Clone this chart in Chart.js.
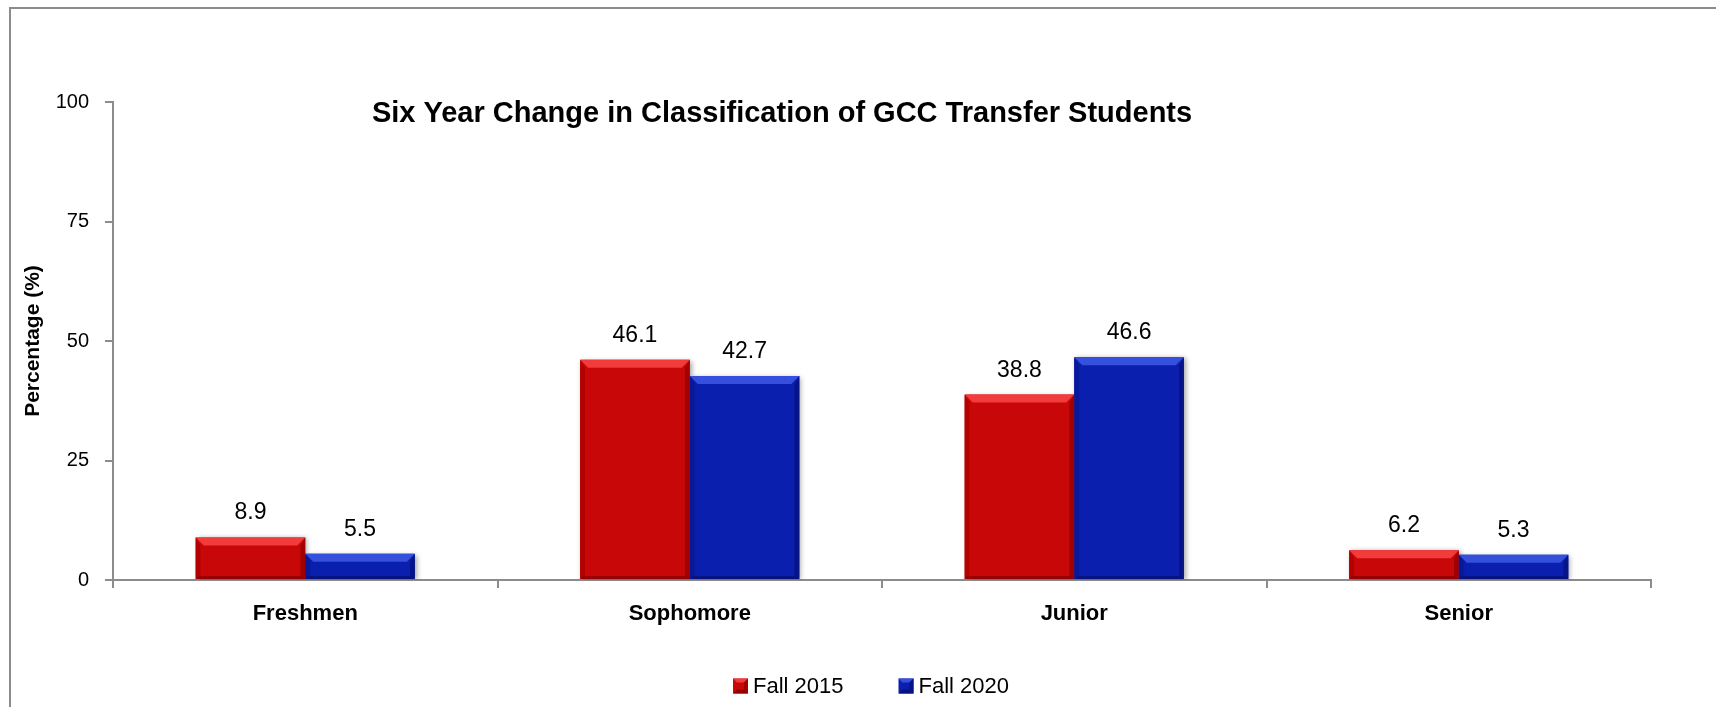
<!DOCTYPE html>
<html>
<head>
<meta charset="utf-8">
<script src="https://cdn.jsdelivr.net/npm/chart.js@4/dist/chart.umd.min.js"></script>
<style>
  html, body { margin: 0; padding: 0; background: #ffffff; }
  #wrap { position: relative; width: 1716px; height: 707px; overflow: hidden; }
  #frame { position: absolute; left: 9px; top: 7px; width: 1800px; height: 800px;
           border-top: 2px solid #8c8c8c; border-left: 2px solid #8c8c8c; }
  #c { position: absolute; left: 0; top: 0; }
</style>
</head>
<body>
<div id="wrap">
  <div id="frame"></div>
  <canvas id="c" width="1716" height="707"></canvas>
</div>
<script>
const chartTitle = 'Six Year Change in Classification of GCC Transfer Students';
const yAxisTitle = 'Percentage (%)';
const categories = ['Freshmen', 'Sophomore', 'Junior', 'Senior'];
const seriesNames = ['Fall 2015', 'Fall 2020'];
const fall2015 = [8.9, 46.1, 38.8, 6.2];
const fall2020 = [5.5, 42.7, 46.6, 5.3];
const yTicks = [0, 25, 50, 75, 100];

const FONT = "'Liberation Sans', Arial, sans-serif";
const RED = '#c80808';
const BLUE = '#0a1fad';
const bevelColors = {
  [RED]:  { top: '#f23b3b', left: '#b30000', right: '#a00000', bottom: '#980000' },
  [BLUE]: { top: '#3550dc', left: '#08189a', right: '#061488', bottom: '#051280' }
};

const shadowPlugin = {
  id: 'barShadow',
  beforeDatasetsDraw(chart) {
    const ctx = chart.ctx;
    ctx.save();
    ctx.shadowColor = 'rgba(0,0,0,0.35)';
    ctx.shadowBlur = 5;
    ctx.shadowOffsetX = 2;
    ctx.shadowOffsetY = 1;
  },
  afterDatasetsDraw(chart) {
    chart.ctx.restore();
  }
};

function drawBevelBox(ctx, l, t, r, b, base, cols, maxS) {
  const h = b - t;
  const s = Math.min(maxS, h / 3);
  const e = Math.min(3, h / 6);
  const poly = (pts, col) => {
    ctx.beginPath();
    ctx.moveTo(pts[0][0], pts[0][1]);
    for (let i = 1; i < pts.length; i++) ctx.lineTo(pts[i][0], pts[i][1]);
    ctx.closePath();
    ctx.fillStyle = col;
    ctx.fill();
  };
  ctx.fillStyle = base;
  ctx.fillRect(l, t, r - l, b - t);
  poly([[l, t], [r, t], [r - s, t + s], [l + s, t + s]], cols.top);
  poly([[l, t], [l + s * 0.6, t + s], [l + s * 0.6, b - e], [l, b]], cols.left);
  poly([[r, t], [r - s * 0.6, t + s], [r - s * 0.6, b - e], [r, b]], cols.right);
  poly([[l, b], [r, b], [r - e, b - e], [l + e, b - e]], cols.bottom);
}

const bevelPlugin = {
  id: 'bevel',
  afterDatasetsDraw(chart) {
    const ctx = chart.ctx;
    chart.data.datasets.forEach((ds, di) => {
      const meta = chart.getDatasetMeta(di);
      const cols = bevelColors[ds.backgroundColor];
      meta.data.forEach(bar => {
        const p = bar.getProps(['x', 'y', 'base', 'width'], true);
        ctx.save();
        const l = p.x - p.width / 2, r = p.x + p.width / 2;
        // overlay bevel on top of the bar drawn by Chart.js
        const h = p.base - p.y;
        const s = Math.min(8, h / 3);
        const e = Math.min(3, h / 6);
        const poly = (pts, col) => {
          ctx.beginPath();
          ctx.moveTo(pts[0][0], pts[0][1]);
          for (let i = 1; i < pts.length; i++) ctx.lineTo(pts[i][0], pts[i][1]);
          ctx.closePath();
          ctx.fillStyle = col;
          ctx.fill();
        };
        const t = p.y, b = p.base;
        poly([[l, t], [r, t], [r - s, t + s], [l + s, t + s]], cols.top);
        poly([[l, t], [l + s * 0.6, t + s], [l + s * 0.6, b - e], [l, b]], cols.left);
        poly([[r, t], [r - s * 0.6, t + s], [r - s * 0.6, b - e], [r, b]], cols.right);
        poly([[l, b], [r, b], [r - e, b - e], [l + e, b - e]], cols.bottom);
        ctx.restore();
      });
    });
  }
};

const labelPlugin = {
  id: 'valueLabels',
  afterDatasetsDraw(chart) {
    const ctx = chart.ctx;
    ctx.save();
    ctx.font = '23px ' + FONT;
    ctx.fillStyle = '#000';
    ctx.textAlign = 'center';
    ctx.textBaseline = 'alphabetic';
    chart.data.datasets.forEach((ds, di) => {
      const meta = chart.getDatasetMeta(di);
      meta.data.forEach((bar, i) => {
        ctx.fillText(ds.data[i].toFixed(1), bar.x, bar.y - 18);
      });
    });
    ctx.restore();
  }
};

const titlePlugin = {
  id: 'customTitle',
  afterDraw(chart) {
    const ctx = chart.ctx;
    const a = chart.chartArea;
    ctx.save();
    ctx.font = 'bold 29px ' + FONT;
    ctx.fillStyle = '#000';
    ctx.textAlign = 'center';
    ctx.textBaseline = 'alphabetic';
    ctx.fillText(chartTitle, a.left + (a.right - a.left) * 0.435, a.top + 20);
    ctx.restore();
  }
};

const legendPlugin = {
  id: 'customLegend',
  afterDraw(chart) {
    const ctx = chart.ctx;
    const a = chart.chartArea;
    const box = 15, gap = 5, itemGap = 55;
    ctx.save();
    ctx.font = '22px ' + FONT;
    const items = chart.data.datasets.map(ds => ({ text: ds.label, color: ds.backgroundColor, w: ctx.measureText(ds.label).width }));
    const total = items.reduce((s, it) => s + box + gap + it.w, 0) + itemGap * (items.length - 1);
    let x = (a.left + a.right) / 2 - 11 - total / 2;
    const cy = a.bottom + 106;
    items.forEach(it => {
      const cols = bevelColors[it.color];
      const l = x, t = cy - box / 2, r = x + box, b = cy + box / 2;
      ctx.fillStyle = it.color;
      ctx.fillRect(l, t, box, box);
      const s = 4;
      const poly = (pts, col) => {
        ctx.beginPath();
        ctx.moveTo(pts[0][0], pts[0][1]);
        for (let i = 1; i < pts.length; i++) ctx.lineTo(pts[i][0], pts[i][1]);
        ctx.closePath();
        ctx.fillStyle = col;
        ctx.fill();
      };
      poly([[l, t], [r, t], [r - s, t + s], [l + s, t + s]], cols.top);
      poly([[l, b], [r, b], [r - s, b - s], [l + s, b - s]], cols.bottom);
      poly([[r, t], [r - s, t + s], [r - s, b - s], [r, b]], cols.right);
      ctx.fillStyle = '#000';
      ctx.textAlign = 'left';
      ctx.textBaseline = 'middle';
      ctx.fillText(it.text, x + box + gap, cy + 1);
      x += box + gap + it.w + itemGap;
    });
    ctx.restore();
  }
};

new Chart(document.getElementById('c'), {
  type: 'bar',
  data: {
    labels: categories,
    datasets: [
      { label: seriesNames[0], data: fall2015, backgroundColor: RED, borderWidth: 0 },
      { label: seriesNames[1], data: fall2020, backgroundColor: BLUE, borderWidth: 0 }
    ]
  },
  options: {
    responsive: false,
    animation: false,
    devicePixelRatio: 1,
    layout: { padding: { left: 10, right: 65, top: 102, bottom: 69 } },
    datasets: { bar: { barPercentage: 1.0, categoryPercentage: 0.57 } },
    plugins: {
      title: { display: false },
      tooltip: { enabled: false },
      legend: { display: false }
    },
    scales: {
      x: {
        grid: { display: true, drawOnChartArea: false, offset: true, tickLength: 8, color: '#8c8c8c', lineWidth: 2 },
        border: { display: true, color: '#8c8c8c', width: 2 },
        ticks: { font: { family: FONT, size: 22, weight: 'bold' }, color: '#000', padding: 13 },
        afterFit(scale) { scale.height = 58; }
      },
      y: {
        min: 0, max: 100,
        afterBuildTicks(scale) { scale.ticks = yTicks.map(v => ({ value: v })); },
        grid: { display: true, drawOnChartArea: false, tickLength: 8, color: '#8c8c8c', lineWidth: 2 },
        border: { display: true, color: '#8c8c8c', width: 2 },
        ticks: { font: { family: FONT, size: 20 }, color: '#000', padding: 16 },
        title: { display: true, text: yAxisTitle, font: { family: FONT, size: 21, weight: 'bold' }, color: '#000', padding: { top: 11, bottom: 0 } },
        afterFit(scale) { scale.width = 103; }
      }
    }
  },
  plugins: [shadowPlugin, bevelPlugin, labelPlugin, titlePlugin, legendPlugin]
});
</script>
</body>
</html>
